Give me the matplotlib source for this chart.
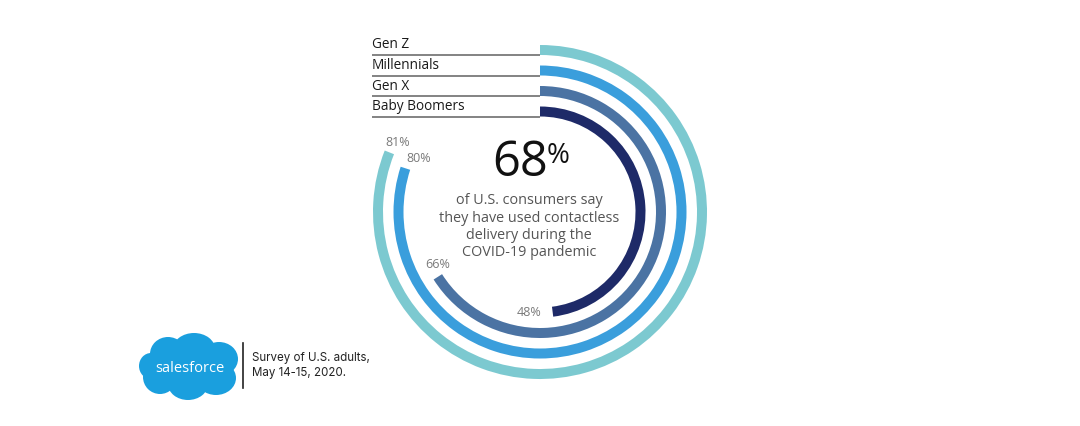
import numpy as np
import matplotlib.pyplot as plt
from matplotlib.patches import Wedge, Circle, Ellipse

plt.rcParams['font.family'] = ['Open Sans', 'DejaVu Sans']

# ---- data ----
groups = ["Gen Z", "Millennials", "Gen X", "Baby Boomers"]
values = [81, 80, 66, 48]
value_labels = ["81%", "80%", "66%", "48%"]
colors = ["#7cc9d0", "#3a9edc", "#4b73a3", "#1e2a68"]
headline = "68"
caption = ["of U.S. consumers say", "they have used contactless",
           "delivery during the", "COVID-19 pandemic"]
footnote = ["Survey of U.S. adults,", "May 14-15, 2020."]

W, H = 1080, 426
fig = plt.figure(figsize=(W / 100, H / 100), dpi=100)
ax = fig.add_axes([0, 0, 1, 1])
ax.set_xlim(0, W)
ax.set_ylim(0, H)
ax.set_aspect('equal')
ax.axis('off')

cx, cy = 540, H - 212
radii = [167, 146.5, 126, 105.5]   # outer edge of each ring
ring_w = 10

for i, (g, v, c) in enumerate(zip(groups, values, colors)):
    r = radii[i]
    ax.add_patch(Wedge((cx, cy), r, 90 - 360 * v / 100, 90, width=ring_w,
                       facecolor=c, edgecolor='none'))
    # label line at inner edge of ring top
    ly = cy + r - ring_w
    ax.plot([372, cx], [ly, ly], color='#6e6e6e', lw=1.2, solid_capstyle='butt')
    ax.text(372, ly + 2.5, g, fontsize=9.8, color='#1a1a1a', ha='left', va='bottom')

# value labels near ring ends
label_pos = [(398, 143), (419, 158), (438, 265), (529, 313)]
for (x, y), t in zip(label_pos, value_labels):
    ax.text(x, H - y, t, fontsize=9, color='#7a7a7a', ha='center', va='center')

# headline
ax.text(548, H - 163, headline, fontsize=35, color='#111111', ha='right', va='center')
ax.text(547, H - 156, "%", fontsize=20, color='#111111', ha='left', va='center')
for k, line in enumerate(caption):
    ax.text(529, H - (201 + 17.2 * k), line, fontsize=10.4, color='#555555',
            ha='center', va='center')

# salesforce cloud logo
blue = '#1a9fde'
for (x, y, rx, ry) in [(190, 368, 42, 22), (168, 354, 18, 17), (194, 349, 21, 16),
                       (219, 359, 19, 17), (160, 377, 17, 17), (188, 384, 20, 16),
                       (216, 378, 20, 17), (151, 366, 12, 13)]:
    ax.add_patch(Ellipse((x, H - y), 2 * rx, 2 * ry, facecolor=blue, edgecolor='none'))
ax.text(190, H - 368, "salesforce", fontsize=10.5, color='white', ha='center', va='center')

ax.plot([243, 243], [H - 343, H - 388], color='#222222', lw=1.2)
for k, line in enumerate(footnote):
    ax.text(252, H - (358 + 15 * k), line, fontsize=8.3, color='#222222',
            ha='left', va='center', family=['Inter', 'DejaVu Sans'])

fig.savefig("out.png", dpi=100)
